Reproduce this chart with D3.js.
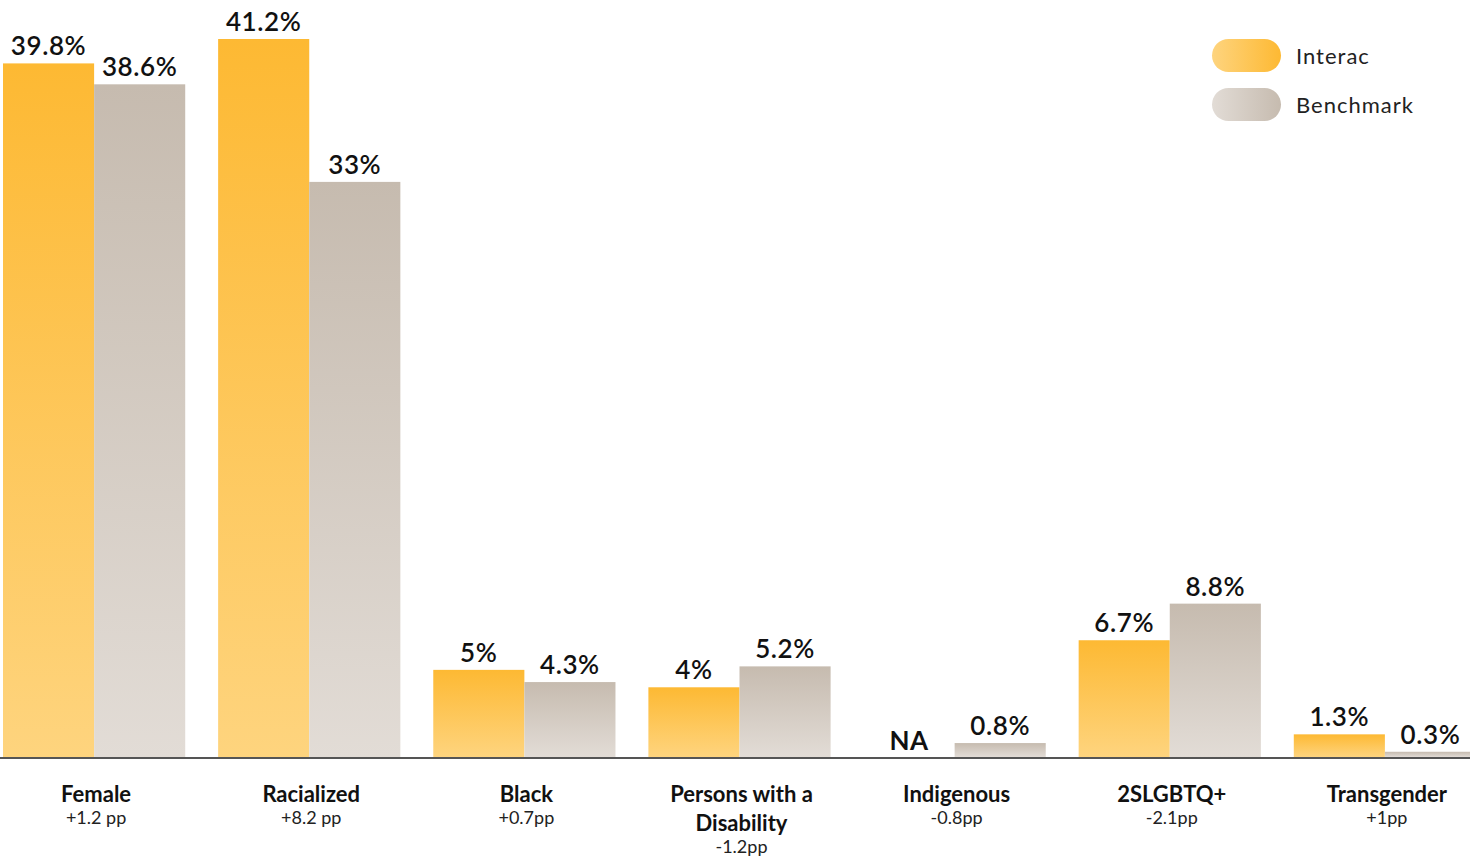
<!DOCTYPE html>
<html>
<head>
<meta charset="utf-8">
<script src="https://cdn.jsdelivr.net/npm/d3@7"></script>
<style>
  html, body { margin: 0; padding: 0; background: #fff; }
  svg { display: block; font-family: Lato, "Noto Sans", sans-serif; }
</style>
</head>
<body>
<svg id="chart" width="1470" height="856"></svg>
<script>
// Dados do gráfico
const categorias = ["Female", "Racialized", "Black", "Persons with a\nDisability", "Indigenous", "2SLGBTQ+", "Transgender"];
const diferencas = ["+1.2 pp", "+8.2 pp", "+0.7pp", "-1.2pp", "-0.8pp", "-2.1pp", "+1pp"];
const interac = [39.8, 41.2, 5, 4, null, 6.7, 1.3];
const benchmark = [38.6, 33, 4.3, 5.2, 0.8, 8.8, 0.3];
const series = ["Interac", "Benchmark"];

const svg = d3.select("#chart");
const baseY = 757;

// Escalas
const x0 = d3.scaleBand()
    .domain(categorias)
    .range([3, 1476])
    .paddingInner(0.153)
    .paddingOuter(0);

const x1 = d3.scaleBand()
    .domain(series)
    .range([0, x0.bandwidth()]);

const y = d3.scaleLinear()
    .domain([0, 41.2])
    .range([baseY, 39]);

// Gradientes
const defs = svg.append("defs");
function gradiente(id, c1, c2, vertical) {
    const g = defs.append("linearGradient").attr("id", id)
        .attr("x1", 0).attr("y1", 0)
        .attr("x2", vertical ? 0 : 1).attr("y2", vertical ? 1 : 0);
    g.append("stop").attr("offset", "0%").attr("stop-color", c1);
    g.append("stop").attr("offset", "100%").attr("stop-color", c2);
}
gradiente("gInterac", "#FDB933", "#FED47E", true);
gradiente("gBench", "#C6BBAF", "#E2DCD6", true);
gradiente("lInterac", "#FED47E", "#FDB933", false);
gradiente("lBench", "#E2DCD6", "#C6BBAF", false);
const fills = { Interac: "url(#gInterac)", Benchmark: "url(#gBench)" };
const legendFills = { Interac: "url(#lInterac)", Benchmark: "url(#lBench)" };

// Monta os dados por grupo
const dados = categorias.map((c, i) => ({
    categoria: c,
    diff: diferencas[i],
    valores: [
        { serie: "Interac", valor: interac[i] },
        { serie: "Benchmark", valor: benchmark[i] }
    ]
}));

const grupos = svg.append("g").selectAll("g")
    .data(dados)
    .join("g")
    .attr("transform", d => `translate(${x0(d.categoria)},0)`);

// Barras
grupos.selectAll("rect")
    .data(d => d.valores.filter(v => v.valor !== null))
    .join("rect")
    .attr("x", d => x1(d.serie))
    .attr("y", d => y(d.valor))
    .attr("width", x1.bandwidth())
    .attr("height", d => baseY - y(d.valor))
    .attr("fill", d => fills[d.serie]);

// Rótulos de valor
grupos.selectAll("text.valor")
    .data(d => d.valores)
    .join("text")
    .attr("class", "valor")
    .attr("x", d => x1(d.serie) + x1.bandwidth() / 2)
    .attr("y", d => d.valor === null ? baseY - 7 : y(d.valor) - 8)
    .attr("text-anchor", "middle")
    .attr("font-size", 26)
    .attr("font-weight", d => d.valor === null ? 700 : 600)
    .attr("letter-spacing", 0.6)
    .attr("fill", "#111")
    .text(d => d.valor === null ? "NA" : d.valor + "%");

// Eixo X (linha base)
svg.append("line")
    .attr("x1", 0).attr("x2", 1470)
    .attr("y1", baseY + 1).attr("y2", baseY + 1)
    .attr("stroke", "#555")
    .attr("stroke-width", 2);

// Rótulos das categorias
grupos.each(function(d) {
    const g = d3.select(this);
    const cx = x0.bandwidth() / 2 + 2;
    const linhas = d.categoria.split("\n");
    linhas.forEach((l, k) => {
        g.append("text")
            .attr("x", cx)
            .attr("y", 802 + k * 29)
            .attr("text-anchor", "middle")
            .attr("font-size", 22)
            .attr("font-weight", 700)
            .attr("fill", "#111")
            .text(l);
    });
    g.append("text")
        .attr("x", cx)
        .attr("y", 824 + (linhas.length - 1) * 29)
        .attr("text-anchor", "middle")
        .attr("font-size", 18)
        .attr("font-weight", 400)
        .attr("fill", "#222")
        .text(d.diff);
});

// Legenda
const legenda = svg.append("g").attr("transform", "translate(1212,39)");
const itens = legenda.selectAll("g")
    .data(series)
    .join("g")
    .attr("transform", (d, i) => `translate(0,${i * 49})`);
itens.append("rect")
    .attr("width", 69).attr("height", 33)
    .attr("rx", 16.5).attr("ry", 16.5)
    .attr("fill", d => legendFills[d]);
itens.append("text")
    .attr("x", 84).attr("y", 25)
    .attr("font-size", 22)
    .attr("letter-spacing", 1)
    .attr("fill", "#222")
    .text(d => d);
</script>
</body>
</html>
